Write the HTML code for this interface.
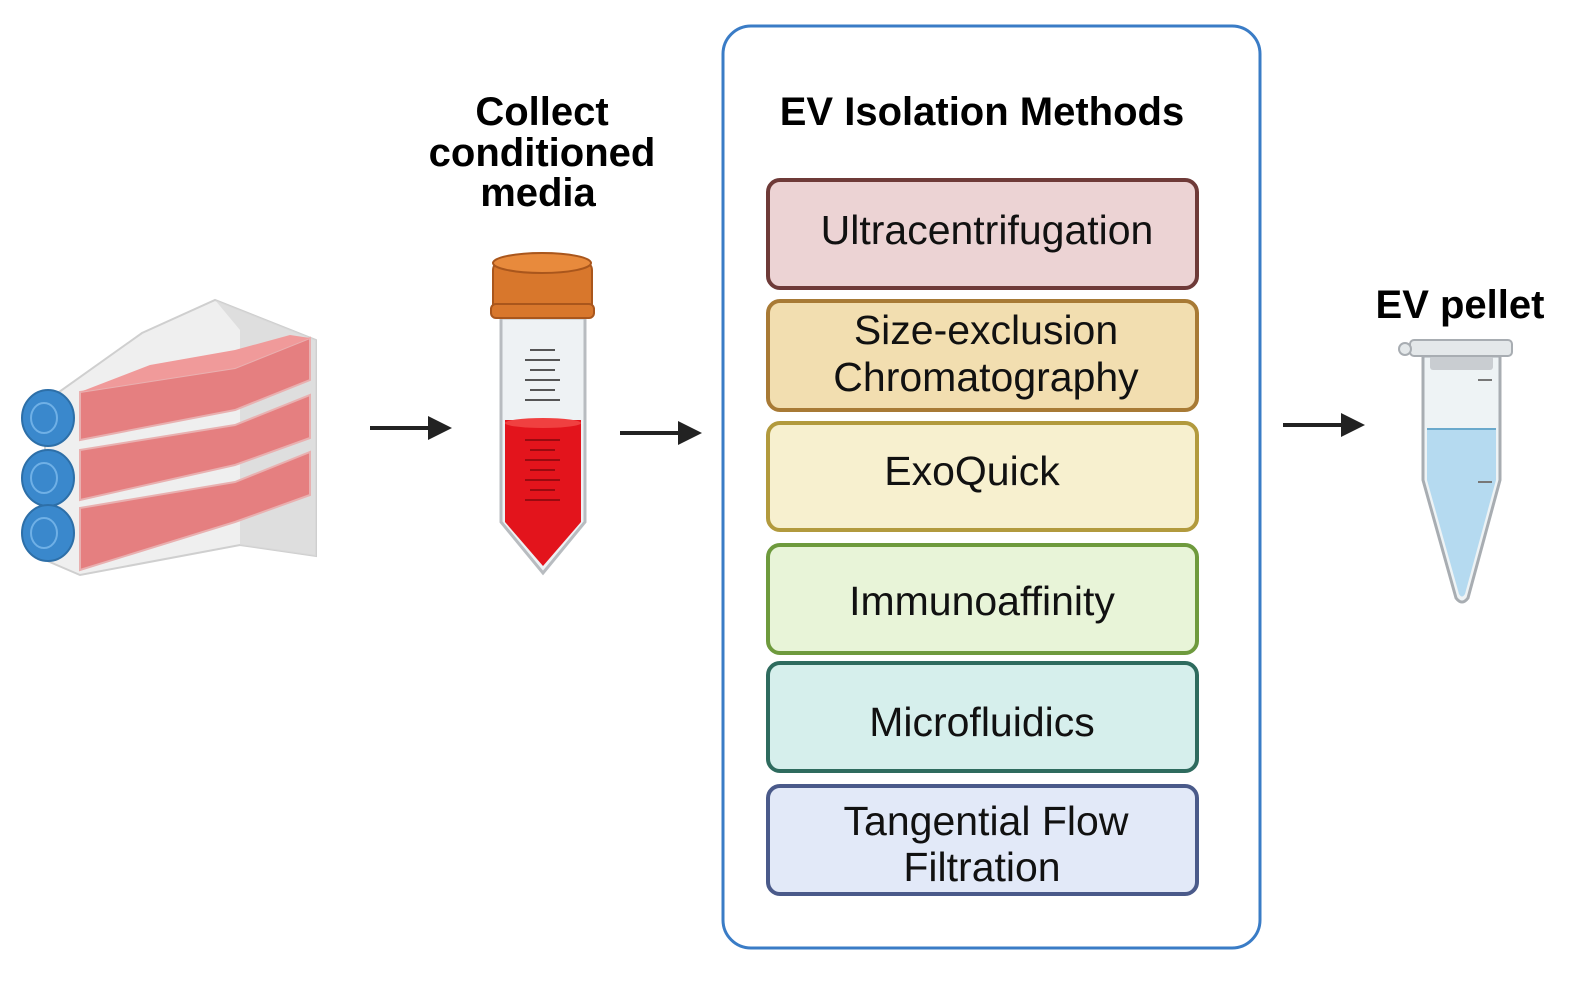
<!DOCTYPE html>
<html><head><meta charset="utf-8"><style>
body{margin:0;background:#fff;}
svg{display:block;font-family:"Liberation Sans",Arial,sans-serif;}
</style></head><body>
<svg width="1588" height="985" viewBox="0 0 1588 985" xmlns="http://www.w3.org/2000/svg">
<!-- flask box -->
<polygon points="45,402 142,333 215,300 316,340 316,556 240,545 80,575 45,560" fill="#efefef" stroke="#cfcfcf" stroke-width="2"/>
<polygon points="215,300 316,340 316,556 240,545 240,330" fill="#d9d9d9" opacity="0.8"/>
<!-- flasks -->
<g stroke="#e9b0b0" stroke-width="2">
<polygon points="80,392 235,368 310,338 310,380 235,410 80,440" fill="#e57f80"/>
<polygon points="80,450 235,425 310,395 310,438 235,465 80,500" fill="#e57f80"/>
<polygon points="80,508 235,482 310,452 310,495 235,522 80,570" fill="#e57f80"/>
</g>
<polygon points="80,392 235,368 310,338 290,335 235,350 150,365" fill="#f09a9a"/>
<g fill="#3a88cc" stroke="#2d6fa8" stroke-width="2">
<ellipse cx="48" cy="418" rx="26" ry="28"/><ellipse cx="48" cy="478" rx="26" ry="28"/><ellipse cx="48" cy="533" rx="26" ry="28"/>
</g>
<g fill="none" stroke="#6fb0e6" stroke-width="2">
<ellipse cx="44" cy="418" rx="13" ry="15"/><ellipse cx="44" cy="478" rx="13" ry="15"/><ellipse cx="44" cy="533" rx="13" ry="15"/>
</g>
<!-- arrows -->
<g stroke="#222" stroke-width="4"><line x1="370" y1="428" x2="432" y2="428"/><line x1="620" y1="433" x2="682" y2="433"/><line x1="1283" y1="425" x2="1345" y2="425"/></g>
<g fill="#222"><polygon points="428,416 452,428 428,440"/><polygon points="678,421 702,433 678,445"/><polygon points="1341,413 1365,425 1341,437"/></g>
<!-- conical tube -->
<g font-size="40" font-weight="bold" text-anchor="middle">
<text x="542" y="125">Collect</text>
<text x="542" y="166">conditioned</text>
<text x="538" y="206">media</text>
</g>
<path d="M501,318 L585,318 L585,522 L543,573 L501,522 Z" fill="#eef2f4" stroke="#b8bcc0" stroke-width="3"/>
<path d="M505,420 L581,420 L581,522 L543,566 L505,522 Z" fill="#e3141c"/>
<ellipse cx="543" cy="423" rx="38" ry="5" fill="#f04040"/>
<g stroke="#555" stroke-width="2"><line x1="525" y1="360" x2="560" y2="360"/><line x1="525" y1="380" x2="560" y2="380"/><line x1="525" y1="400" x2="560" y2="400"/><line x1="530" y1="370" x2="555" y2="370"/><line x1="530" y1="390" x2="555" y2="390"/><line x1="530" y1="350" x2="555" y2="350"/></g>
<g stroke="#9a0a10" stroke-width="2"><line x1="525" y1="440" x2="560" y2="440"/><line x1="525" y1="460" x2="560" y2="460"/><line x1="525" y1="480" x2="560" y2="480"/><line x1="525" y1="500" x2="560" y2="500"/><line x1="530" y1="450" x2="555" y2="450"/><line x1="530" y1="470" x2="555" y2="470"/><line x1="530" y1="490" x2="555" y2="490"/></g>
<rect x="493" y="262" width="99" height="56" rx="8" fill="#d8772c" stroke="#a9561c" stroke-width="2"/>
<ellipse cx="542" cy="263" rx="49" ry="10" fill="#e88a3c" stroke="#a9561c" stroke-width="2"/>
<rect x="491" y="304" width="103" height="14" rx="5" fill="#d8772c" stroke="#a9561c" stroke-width="2"/>
<!-- outer box -->
<rect x="723" y="26" width="537" height="922" rx="28" fill="none" stroke="#3a7cc6" stroke-width="3"/>
<text x="982" y="125" font-size="40" font-weight="bold" text-anchor="middle">EV Isolation Methods</text>
<g stroke-width="4">
<rect x="768" y="180" width="429" height="108" rx="12" fill="#ecd3d4" stroke="#6e3a38"/>
<rect x="768" y="301" width="429" height="109" rx="12" fill="#f2deb0" stroke="#a87a35"/>
<rect x="768" y="423" width="429" height="107" rx="12" fill="#f7f0cf" stroke="#b29a3d"/>
<rect x="768" y="545" width="429" height="108" rx="12" fill="#e8f4d8" stroke="#6e9a3d"/>
<rect x="768" y="663" width="429" height="108" rx="12" fill="#d6efec" stroke="#2e6b5e"/>
<rect x="768" y="786" width="429" height="108" rx="12" fill="#e2e9f8" stroke="#4a5a8a"/>
</g>
<g font-size="41" text-anchor="middle" fill="#111">
<text x="987" y="244">Ultracentrifugation</text>
<text x="986" y="344">Size-exclusion</text>
<text x="986" y="391">Chromatography</text>
<text x="972" y="485">ExoQuick</text>
<text x="982" y="615">Immunoaffinity</text>
<text x="982" y="736">Microfluidics</text>
<text x="986" y="835">Tangential Flow</text>
<text x="982" y="881">Filtration</text>
</g>
<!-- eppendorf -->
<text x="1460" y="318" font-size="40" font-weight="bold" text-anchor="middle">EV pellet</text>
<path d="M1423,356 L1500,356 L1500,480 L1468,598 Q1462,606 1456,598 L1423,480 Z" fill="#eef3f5" stroke="#a8adb2" stroke-width="3"/>
<path d="M1427,428 L1496,428 L1496,480 L1465,594 Q1462,599 1459,594 L1427,480 Z" fill="#b5daf0"/>
<line x1="1427" y1="429" x2="1496" y2="429" stroke="#6aa9cc" stroke-width="2"/>
<g stroke="#777" stroke-width="2"><line x1="1478" y1="380" x2="1492" y2="380"/><line x1="1478" y1="482" x2="1492" y2="482"/></g>
<rect x="1430" y="356" width="63" height="14" rx="3" fill="#c9cdd1"/>
<rect x="1410" y="340" width="102" height="16" rx="4" fill="#e4e8ea" stroke="#a8adb2" stroke-width="2"/>
<circle cx="1405" cy="349" r="6" fill="#e4e8ea" stroke="#a8adb2" stroke-width="2"/>
</svg>
</body></html>
